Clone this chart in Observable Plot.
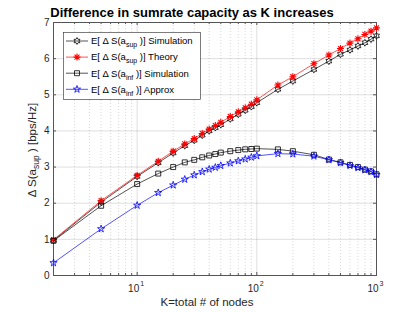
<!DOCTYPE html>
<html><head><meta charset="utf-8">
<script src="https://cdn.jsdelivr.net/npm/d3@7"></script>
<script src="https://cdn.jsdelivr.net/npm/@observablehq/plot@0.6"></script>
<style>body{margin:0;background:#fff}</style>
</head><body><div id="chart"></div>
<script>
// ---- data ----
const K = [2,5,10,15,20,25,30,35,40,45,50,60,70,80,90,100,150,200,300,400,500,600,700,800,900,1000];
const supSim    = [0.97,2.03,2.74,3.12,3.39,3.59,3.74,3.88,4.00,4.09,4.17,4.33,4.46,4.57,4.67,4.78,5.15,5.38,5.70,5.93,6.12,6.24,6.35,6.44,6.54,6.63];
const supTheory = [0.99,2.07,2.77,3.16,3.44,3.64,3.79,3.93,4.05,4.15,4.24,4.40,4.53,4.64,4.74,4.86,5.27,5.50,5.86,6.10,6.28,6.43,6.55,6.67,6.76,6.85];
const infSim    = [0.96,1.93,2.53,2.82,3.00,3.13,3.20,3.27,3.32,3.36,3.40,3.44,3.47,3.49,3.50,3.51,3.49,3.44,3.34,3.21,3.13,3.06,3.00,2.93,2.88,2.80];
const infApprox = [0.35,1.29,1.94,2.29,2.50,2.66,2.78,2.87,2.94,2.99,3.04,3.11,3.17,3.22,3.27,3.31,3.37,3.36,3.30,3.20,3.12,3.04,2.98,2.92,2.87,2.79];
const yTicks = [0,1,2,3,4,5,6,7];
const xMajor = [10,100,1000];
const xMinor = [2,3,4,5,6,7,8,9,20,30,40,50,60,70,80,90,200,300,400,500,600,700,800,900];
const seriesKeys = ["supSim","supTheory","infSim","infApprox"];
const seriesLabels = [
  ["E[ \u0394 S(a","sup"," )] Simulation"],
  ["E[ \u0394 S(a","sup"," )] Theory"],
  ["E[ \u0394 S(a","inf"," )] Simulation"],
  ["E[ \u0394 S(a","inf"," )] Approx"]
];
const title = "Difference in sumrate capacity as K increases";
const xLabel = "K=total # of nodes";

// ---- symbols ----
function starPath(ctx, R, r, n, rot){
  for(let i=0;i<2*n;i++){
    const a = Math.PI/n*i + rot;
    const rr = i%2 ? r : R;
    const x = rr*Math.sin(a), y = -rr*Math.cos(a);
    i ? ctx.lineTo(x,y) : ctx.moveTo(x,y);
  }
  ctx.closePath();
}
const hexagram = {draw(ctx,size){const R=Math.sqrt(size/Math.PI); starPath(ctx,R,R/Math.sqrt(3),6,0);}};
const pentagram = {draw(ctx,size){const R=Math.sqrt(size/Math.PI); starPath(ctx,R,R*0.382,5,0);}};
const asterisk = {draw(ctx,size){const R=Math.sqrt(size/Math.PI);
  for(let i=0;i<4;i++){const a=Math.PI/4*i; const c=R*Math.cos(a), s=R*Math.sin(a); ctx.moveTo(c,s); ctx.lineTo(-c,-s);} }};
const square = {draw(ctx,size){const R=Math.sqrt(size/Math.PI)*0.78; ctx.rect(-R,-R,2*R,2*R);}};

const styles = {
  supSim:   {stroke:"#000000", symbol:hexagram, r:3.4, mw:0.8},
  supTheory:{stroke:"#ff0000", symbol:asterisk, r:3.5, mw:1.1},
  infSim:   {stroke:"#000000", symbol:square, r:3.2, mw:0.8},
  infApprox:{stroke:"#0000ff", symbol:pentagram, r:3.8, mw:0.8}
};
const values = {supSim, supTheory, infSim, infApprox};
const rows = [];
for (const s of seriesKeys) K.forEach((k,i)=>rows.push({K:k, v:values[s][i], s}));

const W=415, H=312, mL=53, mR=39, mT=22, mB=37;
const pw = W-mL-mR, ph = H-mT-mB;
const axisColor = "#555";

const seriesMarks = [];
for (const s of seriesKeys){
  const st = styles[s];
  const data = rows.filter(d=>d.s===s);
  seriesMarks.push(Plot.line(data,{x:"K",y:"v",stroke:st.stroke,strokeWidth:0.8,strokeOpacity:0.85}));
  seriesMarks.push(Plot.dot(data,{x:"K",y:"v",stroke:st.stroke,fill:"none",symbol:st.symbol,r:st.r,strokeWidth:st.mw}));
}

const svg = Plot.plot({
  width:W, height:H, marginLeft:mL, marginRight:mR, marginTop:mT, marginBottom:mB,
  style:{fontFamily:"'Liberation Sans', Arial, Helvetica, sans-serif", fontSize:"10px", background:"#fff", color:"#262626"},
  x:{type:"log", domain:[2,1000], axis:null},
  y:{domain:[0,7], axis:null},
  marks:[
    Plot.ruleX(xMinor,{x:d=>d, stroke:"#000", strokeOpacity:0.22, strokeDasharray:"1,2", strokeWidth:0.7}),
    Plot.ruleX(xMajor,{x:d=>d, stroke:"#000", strokeOpacity:0.13, strokeWidth:1}),
    Plot.ruleY(yTicks,{y:d=>d, stroke:"#000", strokeOpacity:0.13, strokeWidth:1}),
    // inward ticks
    Plot.ruleY(yTicks,{y:d=>d, insetRight:pw-3, stroke:axisColor}),
    Plot.ruleY(yTicks,{y:d=>d, insetLeft:pw-3, stroke:axisColor}),
    Plot.ruleX(xMajor,{x:d=>d, insetTop:ph-3, stroke:axisColor}),
    Plot.ruleX(xMajor,{x:d=>d, insetBottom:ph-3, stroke:axisColor}),
    Plot.ruleX(xMinor,{x:d=>d, insetTop:ph-2, stroke:axisColor}),
    Plot.ruleX(xMinor,{x:d=>d, insetBottom:ph-2, stroke:axisColor}),
    Plot.frame({stroke:axisColor, strokeWidth:1}),
    // tick labels
    Plot.text(yTicks,{x:()=>2, y:d=>d, text:d=>String(d), textAnchor:"end", dx:-4, fill:"#262626", fontSize:10}),
    Plot.text(xMajor,{x:d=>d, y:()=>0, text:()=>"10", dx:-3.5, dy:13, fill:"#262626", fontSize:10}),
    Plot.text(xMajor,{x:d=>d, y:()=>0, text:d=>String(Math.round(Math.log10(d))), dx:5, dy:8.5, fill:"#262626", fontSize:7}),
    ...seriesMarks
  ]
});
document.getElementById("chart").append(svg);

const g = d3.select(svg);
const font = "'Liberation Sans', Arial, Helvetica, sans-serif";
// title
g.append("text").attr("x",192).attr("y",17).attr("text-anchor","middle")
  .attr("font-family",font).attr("font-weight","bold").attr("font-size",13).attr("fill","#000").text(title);
// x label
g.append("text").attr("x",207).attr("y",306).attr("text-anchor","middle")
  .attr("font-family",font).attr("font-size",11.5).attr("fill","#262626").text(xLabel);
// y label
const yl = g.append("text").attr("transform","translate(36,150) rotate(-90)").attr("text-anchor","middle")
  .attr("font-family",font).attr("font-size",11.5).attr("fill","#262626");
yl.append("tspan").text("\u0394 S(a");
yl.append("tspan").attr("font-size",8.5).attr("dy",3).text("sup");
yl.append("tspan").attr("dy",-3).text(" ) [bps/Hz]");

// legend
const lg = g.append("g");
lg.append("rect").attr("x",63.5).attr("y",32.5).attr("width",137).attr("height",67)
  .attr("fill","#fff").attr("stroke","#262626").attr("stroke-width",0.6);
seriesKeys.forEach((s,i)=>{
  const st = styles[s];
  const cy = 41 + i*16.1;
  lg.append("line").attr("x1",66).attr("x2",88).attr("y1",cy).attr("y2",cy)
    .attr("stroke",st.stroke).attr("stroke-width",0.8).attr("stroke-opacity",0.85);
  lg.append("path").attr("transform",`translate(77,${cy})`)
    .attr("d",d3.symbol(st.symbol, Math.PI*st.r*st.r)())
    .attr("fill","none").attr("stroke",st.stroke).attr("stroke-width",st.mw);
  const t = lg.append("text").attr("x",91).attr("y",cy+3.3).attr("text-anchor","start").attr("font-family",font)
    .attr("font-size",9.5).attr("fill","#000");
  const lab = seriesLabels[i];
  t.append("tspan").text(lab[0]);
  t.append("tspan").attr("font-size",7).attr("dy",3).text(lab[1]);
  t.append("tspan").attr("dy",-3).text(lab[2]);
});
</script>
</body></html>
